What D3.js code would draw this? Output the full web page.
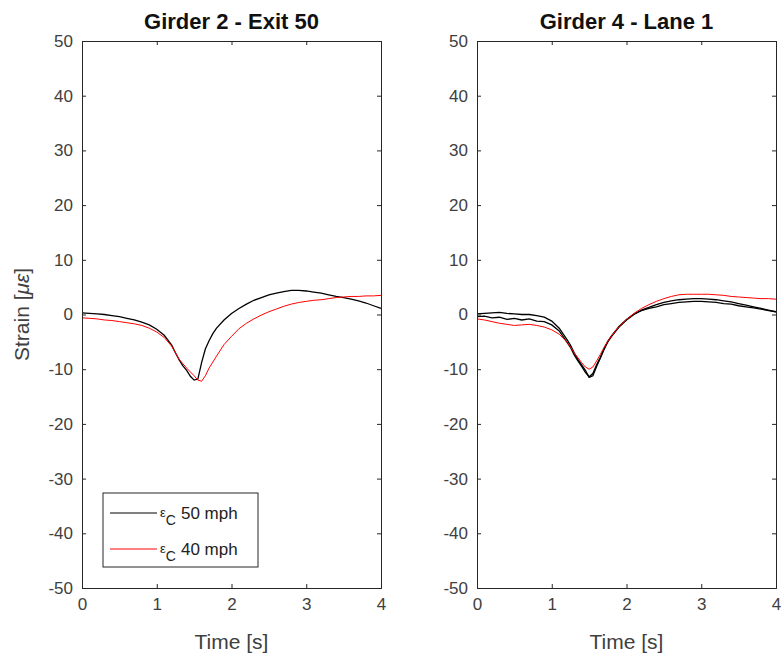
<!DOCTYPE html>
<html>
<head>
<meta charset="utf-8">
<script src="https://cdnjs.cloudflare.com/ajax/libs/d3/7.8.5/d3.min.js"></script>
<style>
  body { margin: 0; background: #fff; }
  text { font-family: "Liberation Sans", Arial, Helvetica, sans-serif; }
</style>
</head>
<body>
<div id="chart"></div>
<script>
// time samples [s], finer around the dip
var time = [0, 0.1, 0.2, 0.3, 0.4, 0.5, 0.6, 0.7, 0.8, 0.9, 1.0, 1.1, 1.2,
  1.25, 1.3, 1.35, 1.4, 1.45, 1.5, 1.55, 1.6, 1.65, 1.7, 1.75, 1.8,
  1.9, 2.0, 2.1, 2.2, 2.3, 2.4, 2.5, 2.6, 2.7, 2.8, 2.9, 3.0, 3.1, 3.2, 3.3, 3.4, 3.5, 3.6, 3.7, 3.8, 3.9, 4.0];

// Girder 2 - Exit 50
var g2_50mph = [0.3, 0.2, 0.1, 0, -0.2, -0.4, -0.7, -1.0, -1.4, -1.9, -2.7, -3.8, -5.6,
  -7.0, -8.3, -9.4, -10.2, -11.3, -12.0, -11.8, -8.8, -6.3, -4.8, -3.5, -2.5,
  -1.0, 0.2, 1.1, 1.9, 2.6, 3.1, 3.6, 3.9, 4.2, 4.4, 4.4, 4.3, 4.1, 3.9, 3.6, 3.3, 3.1, 2.8, 2.5, 2.1, 1.6, 1.1];
var g2_40mph = [-0.6, -0.7, -0.8, -1.0, -1.1, -1.3, -1.5, -1.7, -2.0, -2.5, -3.2, -4.2, -5.8,
  -7.0, -8.2, -9.0, -9.8, -10.5, -11.2, -12.0, -12.2, -11.2, -9.8, -8.7, -7.6,
  -5.5, -4.0, -2.6, -1.6, -0.8, -0.1, 0.5, 1.0, 1.5, 1.9, 2.2, 2.4, 2.6, 2.7, 2.9, 3.1, 3.2, 3.3, 3.3, 3.4, 3.4, 3.5];

// Girder 4 - Lane 1 (two 50 mph runs)
var g4_50mph_a = [0.1, 0.2, 0.3, 0.4, 0.2, 0.1, 0.0, 0.0, -0.2, -0.5, -1.2, -2.5, -4.5,
  -5.6, -7.0, -8.2, -9.2, -10.2, -11.5, -11.2, -9.5, -8.0, -6.4, -5.0, -4.0,
  -2.3, -1.0, 0.0, 0.8, 1.3, 1.8, 2.2, 2.5, 2.7, 2.8, 2.9, 2.9, 2.8, 2.7, 2.5, 2.3, 2.0, 1.7, 1.4, 1.1, 0.8, 0.5];
var g4_50mph_b = [-0.4, -0.3, -0.6, -0.5, -0.9, -0.7, -1.0, -0.8, -1.2, -1.3, -1.9, -3.0, -5.0,
  -6.0, -7.4, -8.5, -9.5, -10.6, -11.4, -10.8, -9.2, -7.8, -6.2, -4.9, -3.9,
  -2.2, -0.9, 0.1, 0.7, 1.1, 1.4, 1.8, 2.0, 2.2, 2.3, 2.4, 2.4, 2.3, 2.2, 2.0, 1.9, 1.6, 1.4, 1.2, 1.0, 0.7, 0.5];
var g4_40mph = [-0.8, -1.0, -1.3, -1.6, -1.8, -2.0, -1.9, -1.8, -2.0, -2.3, -2.8, -3.6, -5.0,
  -5.9, -7.0, -7.9, -8.8, -9.6, -10.0, -9.6, -8.5, -7.3, -6.0, -4.9, -3.9,
  -2.2, -0.9, 0.2, 1.1, 1.8, 2.4, 2.9, 3.3, 3.6, 3.7, 3.7, 3.7, 3.7, 3.6, 3.5, 3.3, 3.2, 3.1, 3.0, 2.9, 2.9, 2.8];

var xTicks = [0, 1, 2, 3, 4];
var yTicks = [-50, -40, -30, -20, -10, 0, 10, 20, 30, 40, 50];
var legendLabels = ["50 mph", "40 mph"];

var panels = [
  { title: "Girder 2 - Exit 50", left: 82, series: [
      { values: g2_50mph, color: "#000000" },
      { values: g2_40mph, color: "#ff0000" }], legend: true },
  { title: "Girder 4 - Lane 1", left: 477, series: [
      { values: g4_50mph_a, color: "#000000" },
      { values: g4_50mph_b, color: "#000000" },
      { values: g4_40mph, color: "#ff0000" }], legend: false }
];

var W = 784, H = 662;
var plotTop = 41, plotBottom = 588, pw = 299;
var axisColor = "#262626", labelColor = "#404040";
var plainNum = function(d) { return String(d); };

var svg = d3.select("#chart").append("svg")
  .attr("width", W).attr("height", H);

var y = d3.scaleLinear().domain([-50, 50]).range([plotBottom, plotTop]);

panels.forEach(function(p) {
  var x = d3.scaleLinear().domain([0, 4]).range([p.left, p.left + pw]);
  var g = svg.append("g");

  // lines
  var line = d3.line()
    .x(function(d, i) { return x(time[i]); })
    .y(function(d) { return y(d); });
  p.series.forEach(function(s) {
    g.append("path")
      .datum(s.values)
      .attr("d", line)
      .attr("fill", "none")
      .attr("stroke", s.color)
      .attr("stroke-width", s.color == "#000000" ? 1.3 : 1);
  });

  // axes, MATLAB style: ticks inside, box on
  var tl = 4;
  g.append("g").attr("transform", "translate(0," + plotBottom + ")")
    .call(d3.axisBottom(x).tickValues(xTicks).tickSize(-tl).tickPadding(10).tickFormat(plainNum));
  g.append("g").attr("transform", "translate(0," + plotTop + ")")
    .call(d3.axisTop(x).tickValues(xTicks).tickSize(-tl).tickFormat(""));
  g.append("g").attr("transform", "translate(" + p.left + ",0)")
    .call(d3.axisLeft(y).tickValues(yTicks).tickSize(-tl).tickPadding(9).tickFormat(plainNum));
  g.append("g").attr("transform", "translate(" + (p.left + pw) + ",0)")
    .call(d3.axisRight(y).tickValues(yTicks).tickSize(-tl).tickFormat(""));
  g.selectAll(".domain").attr("stroke", axisColor);
  g.selectAll(".tick line").attr("stroke", axisColor);
  g.selectAll(".tick text").attr("fill", labelColor).style("font-size", "17px")
    .style("font-family", "'Liberation Sans', Arial, sans-serif");

  // title
  g.append("text")
    .attr("x", p.left + pw / 2).attr("y", 29)
    .attr("text-anchor", "middle")
    .style("font-size", "22px").style("font-weight", "bold")
    .attr("fill", "#111")
    .text(p.title);

  // x label
  g.append("text")
    .attr("x", p.left + pw / 2).attr("y", 649)
    .attr("text-anchor", "middle")
    .style("font-size", "21px").attr("fill", labelColor)
    .text("Time [s]");

  if (p.legend) {
    var lg = g.append("g");
    lg.append("rect")
      .attr("x", 103).attr("y", 493).attr("width", 155).attr("height", 74)
      .attr("fill", "#fff").attr("stroke", axisColor).attr("stroke-width", 1);
    legendLabels.forEach(function(lab, i) {
      var ly = 513 + i * 36;
      lg.append("line")
        .attr("x1", 110).attr("x2", 157).attr("y1", ly).attr("y2", ly)
        .attr("stroke", p.series[i].color).attr("stroke-width", 1);
      var t = lg.append("text").attr("x", 160).attr("y", ly + 4)
        .style("font-size", "17px").attr("fill", "#222");
      t.append("tspan").style("font-size", "13px").text("\u03b5");
      t.append("tspan").attr("dy", 8).style("font-size", "14px").text("C");
      t.append("tspan").attr("dy", -6).attr("dx", 5).text(lab);
    });
  }
});

// y label
var yl = svg.append("text")
  .attr("transform", "translate(29," + ((plotTop + plotBottom) / 2) + ") rotate(-90)")
  .attr("text-anchor", "middle")
  .style("font-size", "21px").attr("fill", labelColor);
yl.append("tspan").text("Strain [");
yl.append("tspan").style("font-style", "italic").text("\u03bc\u03b5");
yl.append("tspan").text("]");
</script>
</body>
</html>
